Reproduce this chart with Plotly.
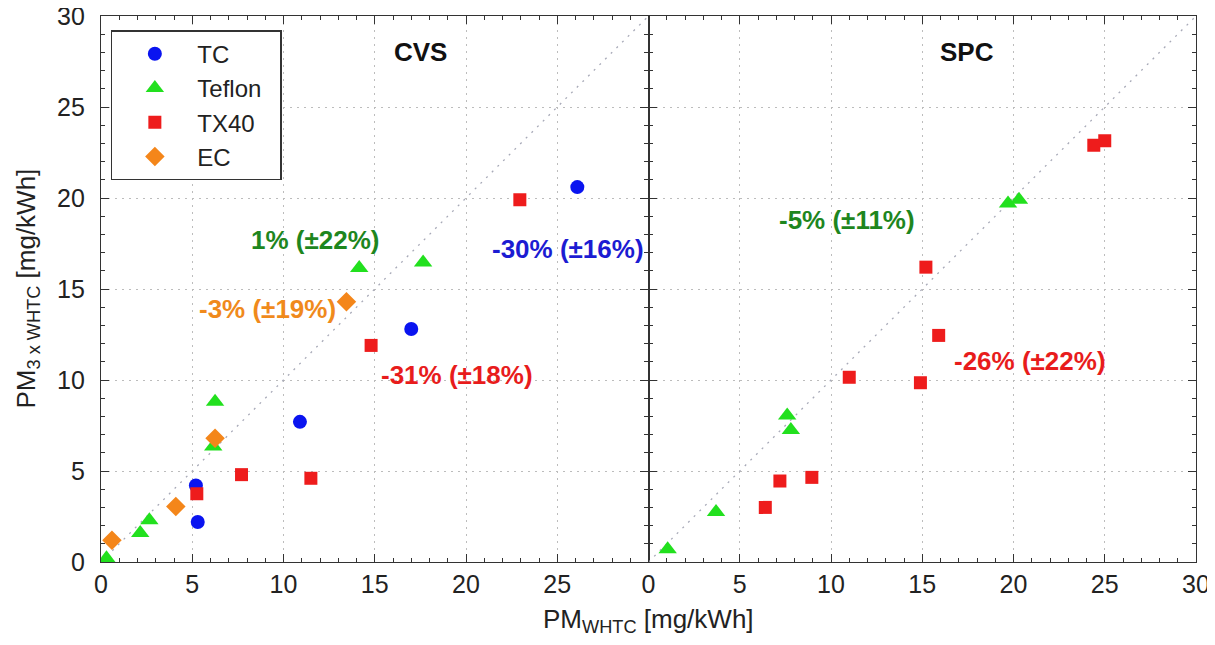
import plotly.graph_objects as go
from plotly.subplots import make_subplots

# ---- Data (CVS panel) ----
cvs_tc_x = [5.2, 5.3, 10.9, 17.0, 26.1]
cvs_tc_y = [4.2, 2.2, 7.7, 12.8, 20.6]
cvs_tef_x = [0.3, 2.15, 2.65, 6.15, 6.25, 14.15, 17.65]
cvs_tef_y = [0.2, 1.6, 2.3, 6.35, 8.8, 16.15, 16.45]
cvs_tx_x = [5.25, 7.7, 11.5, 14.8, 22.95]
cvs_tx_y = [3.75, 4.8, 4.6, 11.9, 19.9]
cvs_ec_x = [0.6, 4.1, 6.25, 13.45]
cvs_ec_y = [1.2, 3.05, 6.8, 14.3]

# ---- Data (SPC panel) ----
spc_tef_x = [1.05, 3.7, 7.6, 7.8, 19.7, 20.3]
spc_tef_y = [0.7, 2.75, 8.05, 7.25, 19.7, 19.9]
spc_tx_x = [6.4, 7.2, 8.95, 11.0, 14.9, 15.2, 15.9, 24.4, 25.0]
spc_tx_y = [3.0, 4.45, 4.65, 10.15, 9.85, 16.2, 12.45, 22.9, 23.15]

diag = [0, 30]

# annotation texts and positions
cvs_labels = ["1% (±22%)", "-30% (±16%)", "-3% (±19%)", "-31% (±18%)"]
cvs_lab_x = [11.75, 25.6, 9.1, 19.5]
cvs_lab_y = [17.7, 17.2, 13.9, 10.3]
cvs_lab_c = ["#1e861e", "#1c1cd2", "#f08a1c", "#e81c1c"]
spc_labels = ["-5% (±11%)", "-26% (±22%)"]
spc_lab_x = [10.85, 20.9]
spc_lab_y = [18.8, 11.05]
spc_lab_c = ["#1e861e", "#e81c1c"]

C_BLUE = "#0a14f0"
C_GREEN = "#22e01e"
C_RED = "#ee1c1c"
C_ORANGE = "#f4861a"
FONT = "Liberation Sans, Arial, sans-serif"
NB = "\u00a0"

fig = make_subplots(rows=1, cols=2, horizontal_spacing=0, shared_yaxes=False)

for col in (1, 2):
    fig.add_trace(go.Scatter(x=diag, y=diag, mode="lines",
                             line=dict(color="#a8aab8", width=1.3, dash="2px,6px"),
                             showlegend=False, hoverinfo="skip"), row=1, col=col)

fig.add_trace(go.Scatter(x=cvs_tc_x, y=cvs_tc_y, mode="markers", name="TC",
                         marker=dict(symbol="circle", size=14, color=C_BLUE)), row=1, col=1)
fig.add_trace(go.Scatter(x=cvs_tef_x, y=cvs_tef_y, mode="markers", name="Teflon" + NB * 2,
                         marker=dict(symbol="triangle-up", size=16, color=C_GREEN)), row=1, col=1)
fig.add_trace(go.Scatter(x=cvs_tx_x, y=cvs_tx_y, mode="markers", name="TX40",
                         marker=dict(symbol="square", size=13, color=C_RED)), row=1, col=1)
fig.add_trace(go.Scatter(x=cvs_ec_x, y=cvs_ec_y, mode="markers", name="EC",
                         marker=dict(symbol="diamond", size=15, color=C_ORANGE)), row=1, col=1)

fig.add_trace(go.Scatter(x=spc_tef_x, y=spc_tef_y, mode="markers", name="Teflon",
                         marker=dict(symbol="triangle-up", size=16, color=C_GREEN),
                         showlegend=False), row=1, col=2)
fig.add_trace(go.Scatter(x=spc_tx_x, y=spc_tx_y, mode="markers", name="TX40",
                         marker=dict(symbol="square", size=13, color=C_RED),
                         showlegend=False), row=1, col=2)

axis_common = dict(showline=True, linecolor="#333", linewidth=1.2,
                   mirror="allticks", ticks="inside", ticklen=8, tickwidth=1.2,
                   tickcolor="#333", showgrid=True, gridcolor="#bcbcbc",
                   griddash="2px,5px", gridwidth=1.3, zeroline=False, automargin=False,
                   tickmode="linear", tick0=0, dtick=5, ticklabeloverflow="allow",
                   tickfont=dict(family=FONT, size=25, color="#222"),
                   minor=dict(ticks="inside", ticklen=4, dtick=1, tick0=0,
                              tickcolor="#333", tickwidth=1.1, showgrid=False))

fig.update_xaxes(**axis_common, range=[0, 30], labelalias={"30": " "}, row=1, col=1)
fig.update_xaxes(**axis_common, range=[0, 30], row=1, col=2)
fig.update_yaxes(**axis_common, range=[0, 30], ticklabelstandoff=10, row=1, col=1)
fig.update_yaxes(**axis_common, range=[0, 30], showticklabels=False, row=1, col=2)

annotations = []
annotations.append(dict(x=17.5, y=28.0, xref="x", yref="y", text="<b>CVS</b>",
                        showarrow=False, font=dict(family=FONT, size=26, color="#111")))
annotations.append(dict(x=17.45, y=28.0, xref="x2", yref="y2", text="<b>SPC</b>",
                        showarrow=False, font=dict(family=FONT, size=26, color="#111")))
for t, x, y, c in zip(cvs_labels, cvs_lab_x, cvs_lab_y, cvs_lab_c):
    annotations.append(dict(x=x, y=y, xref="x", yref="y", text="<b>" + t + "</b>",
                            showarrow=False, font=dict(family=FONT, size=26, color=c)))
for t, x, y, c in zip(spc_labels, spc_lab_x, spc_lab_y, spc_lab_c):
    annotations.append(dict(x=x, y=y, xref="x2", yref="y2", text="<b>" + t + "</b>",
                            showarrow=False, font=dict(family=FONT, size=26, color=c)))
annotations.append(dict(x=0.5, y=-0.108, xref="paper", yref="paper", yanchor="middle",
                        text="PM<sub>WHTC</sub> [mg/kWh]", showarrow=False,
                        font=dict(family=FONT, size=26, color="#222")))
annotations.append(dict(x=-0.068, y=0.5, xref="paper", yref="paper", xanchor="center",
                        yanchor="middle", textangle=-90,
                        text="PM<sub>3 x WHTC</sub> [mg/kWh]", showarrow=False,
                        font=dict(family=FONT, size=26, color="#222")))

# page body has an 8px margin, so the figure is sized to fit inside the window
fig.update_layout(
    width=1207, height=637,
    margin=dict(l=93, r=19, t=8, b=83),
    paper_bgcolor="white", plot_bgcolor="white",
    annotations=annotations,
    legend=dict(x=0.009, y=0.974, xanchor="left", yanchor="top",
                bordercolor="#333", borderwidth=1.5, bgcolor="white",
                font=dict(family=FONT, size=24, color="#222"),
                itemwidth=75, tracegroupgap=0),
)

fig.write_html("out.html")
